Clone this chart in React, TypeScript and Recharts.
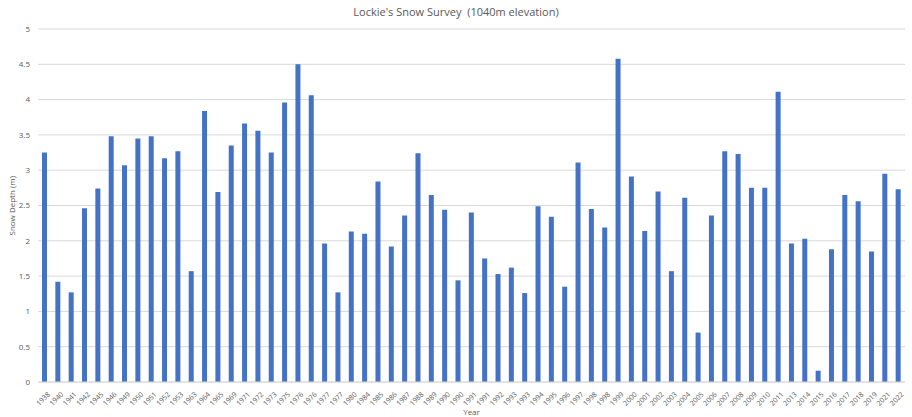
import React from 'react';
import { BarChart, Bar, XAxis, YAxis, CartesianGrid } from 'recharts';

const YEARS = [
  '1938', '1940', '1941', '1942', '1945', '1946', '1949', '1950', '1951', '1952',
  '1953', '1963', '1964', '1965', '1969', '1971', '1972', '1973', '1975', '1976',
  '1976', '1977', '1977', '1980', '1984', '1985', '1986', '1987', '1988', '1989',
  '1990', '1990', '1991', '1991', '1992', '1993', '1993', '1994', '1995', '1996',
  '1997', '1998', '1998', '1999', '2000', '2001', '2002', '2003', '2004', '2005',
  '2006', '2007', '2008', '2009', '2010', '2011', '2013', '2014', '2015', '2016',
  '2017', '2018', '2019', '2021', '2022',
];

const DEPTHS = [
  3.25, 1.42, 1.27, 2.46, 2.74, 3.48, 3.07, 3.45, 3.48, 3.17,
  3.27, 1.57, 3.84, 2.69, 3.35, 3.66, 3.56, 3.25, 3.96, 4.5,
  4.06, 1.96, 1.27, 2.13, 2.1, 2.84, 1.92, 2.36, 3.24, 2.65,
  2.44, 1.44, 2.4, 1.75, 1.53, 1.62, 1.26, 2.49, 2.34, 1.35,
  3.11, 2.45, 2.19, 4.58, 2.91, 2.14, 2.7, 1.57, 2.61, 0.7,
  2.36, 3.27, 3.23, 2.75, 2.75, 4.11, 1.96, 2.03, 0.16, 1.88,
  2.65, 2.56, 1.85, 2.95, 2.73,
];

const Y_TICKS = [0, 0.5, 1, 1.5, 2, 2.5, 3, 3.5, 4, 4.5, 5];

const data = YEARS.map((year, i) => ({ idx: i, year, depth: DEPTHS[i] }));

const FONT = '"Open Sans", "Liberation Sans", sans-serif';

const YearTick = ({ x, y, payload }: any) => (
  <text
    x={x + 3}
    y={y + 2}
    dy={4}
    fontSize={7}
    fill="#595959"
    fontFamily={FONT}
    textAnchor="end"
    transform={`rotate(-45 ${x + 3} ${y + 2})`}
  >
    {YEARS[payload.value]}
  </text>
);

const App: React.FC = () => {
  return (
    <div style={{ position: 'absolute', left: 0, top: 0, width: 912, height: 417, background: '#fff', fontFamily: FONT }}>
      <div style={{ position: 'absolute', top: 4, width: '100%', textAlign: 'center', fontSize: 11, color: '#595959' }}>
        Lockie's Snow Survey&nbsp; (1040m elevation)
      </div>
      <BarChart
        width={912}
        height={417}
        data={data}
        margin={{ top: 29, right: 7, left: 0, bottom: 0 }}
      >
        <CartesianGrid vertical={false} stroke="#d9d9d9" />
        <XAxis
          dataKey="idx"
          type="category"
          interval={0}
          tick={<YearTick />}
          tickLine={false}
          axisLine={{ stroke: '#d9d9d9' }}
          height={35}
          label={{ value: 'Year', position: 'insideBottom', offset: 2, fontSize: 8, fill: '#595959' }}
        />
        <YAxis
          domain={[0, 5]}
          ticks={Y_TICKS}
          width={38}
          tickLine={false}
          axisLine={false}
          tick={{ fontSize: 8, fill: '#595959' }}
          label={{ value: 'Snow Depth (m)', angle: -90, position: 'insideLeft', offset: 12, fontSize: 8, fill: '#595959', dy: 30 }}
        />
        <Bar dataKey="depth" fill="#4472C4" barSize={5} isAnimationActive={false} />
      </BarChart>
    </div>
  );
};

export default App;
